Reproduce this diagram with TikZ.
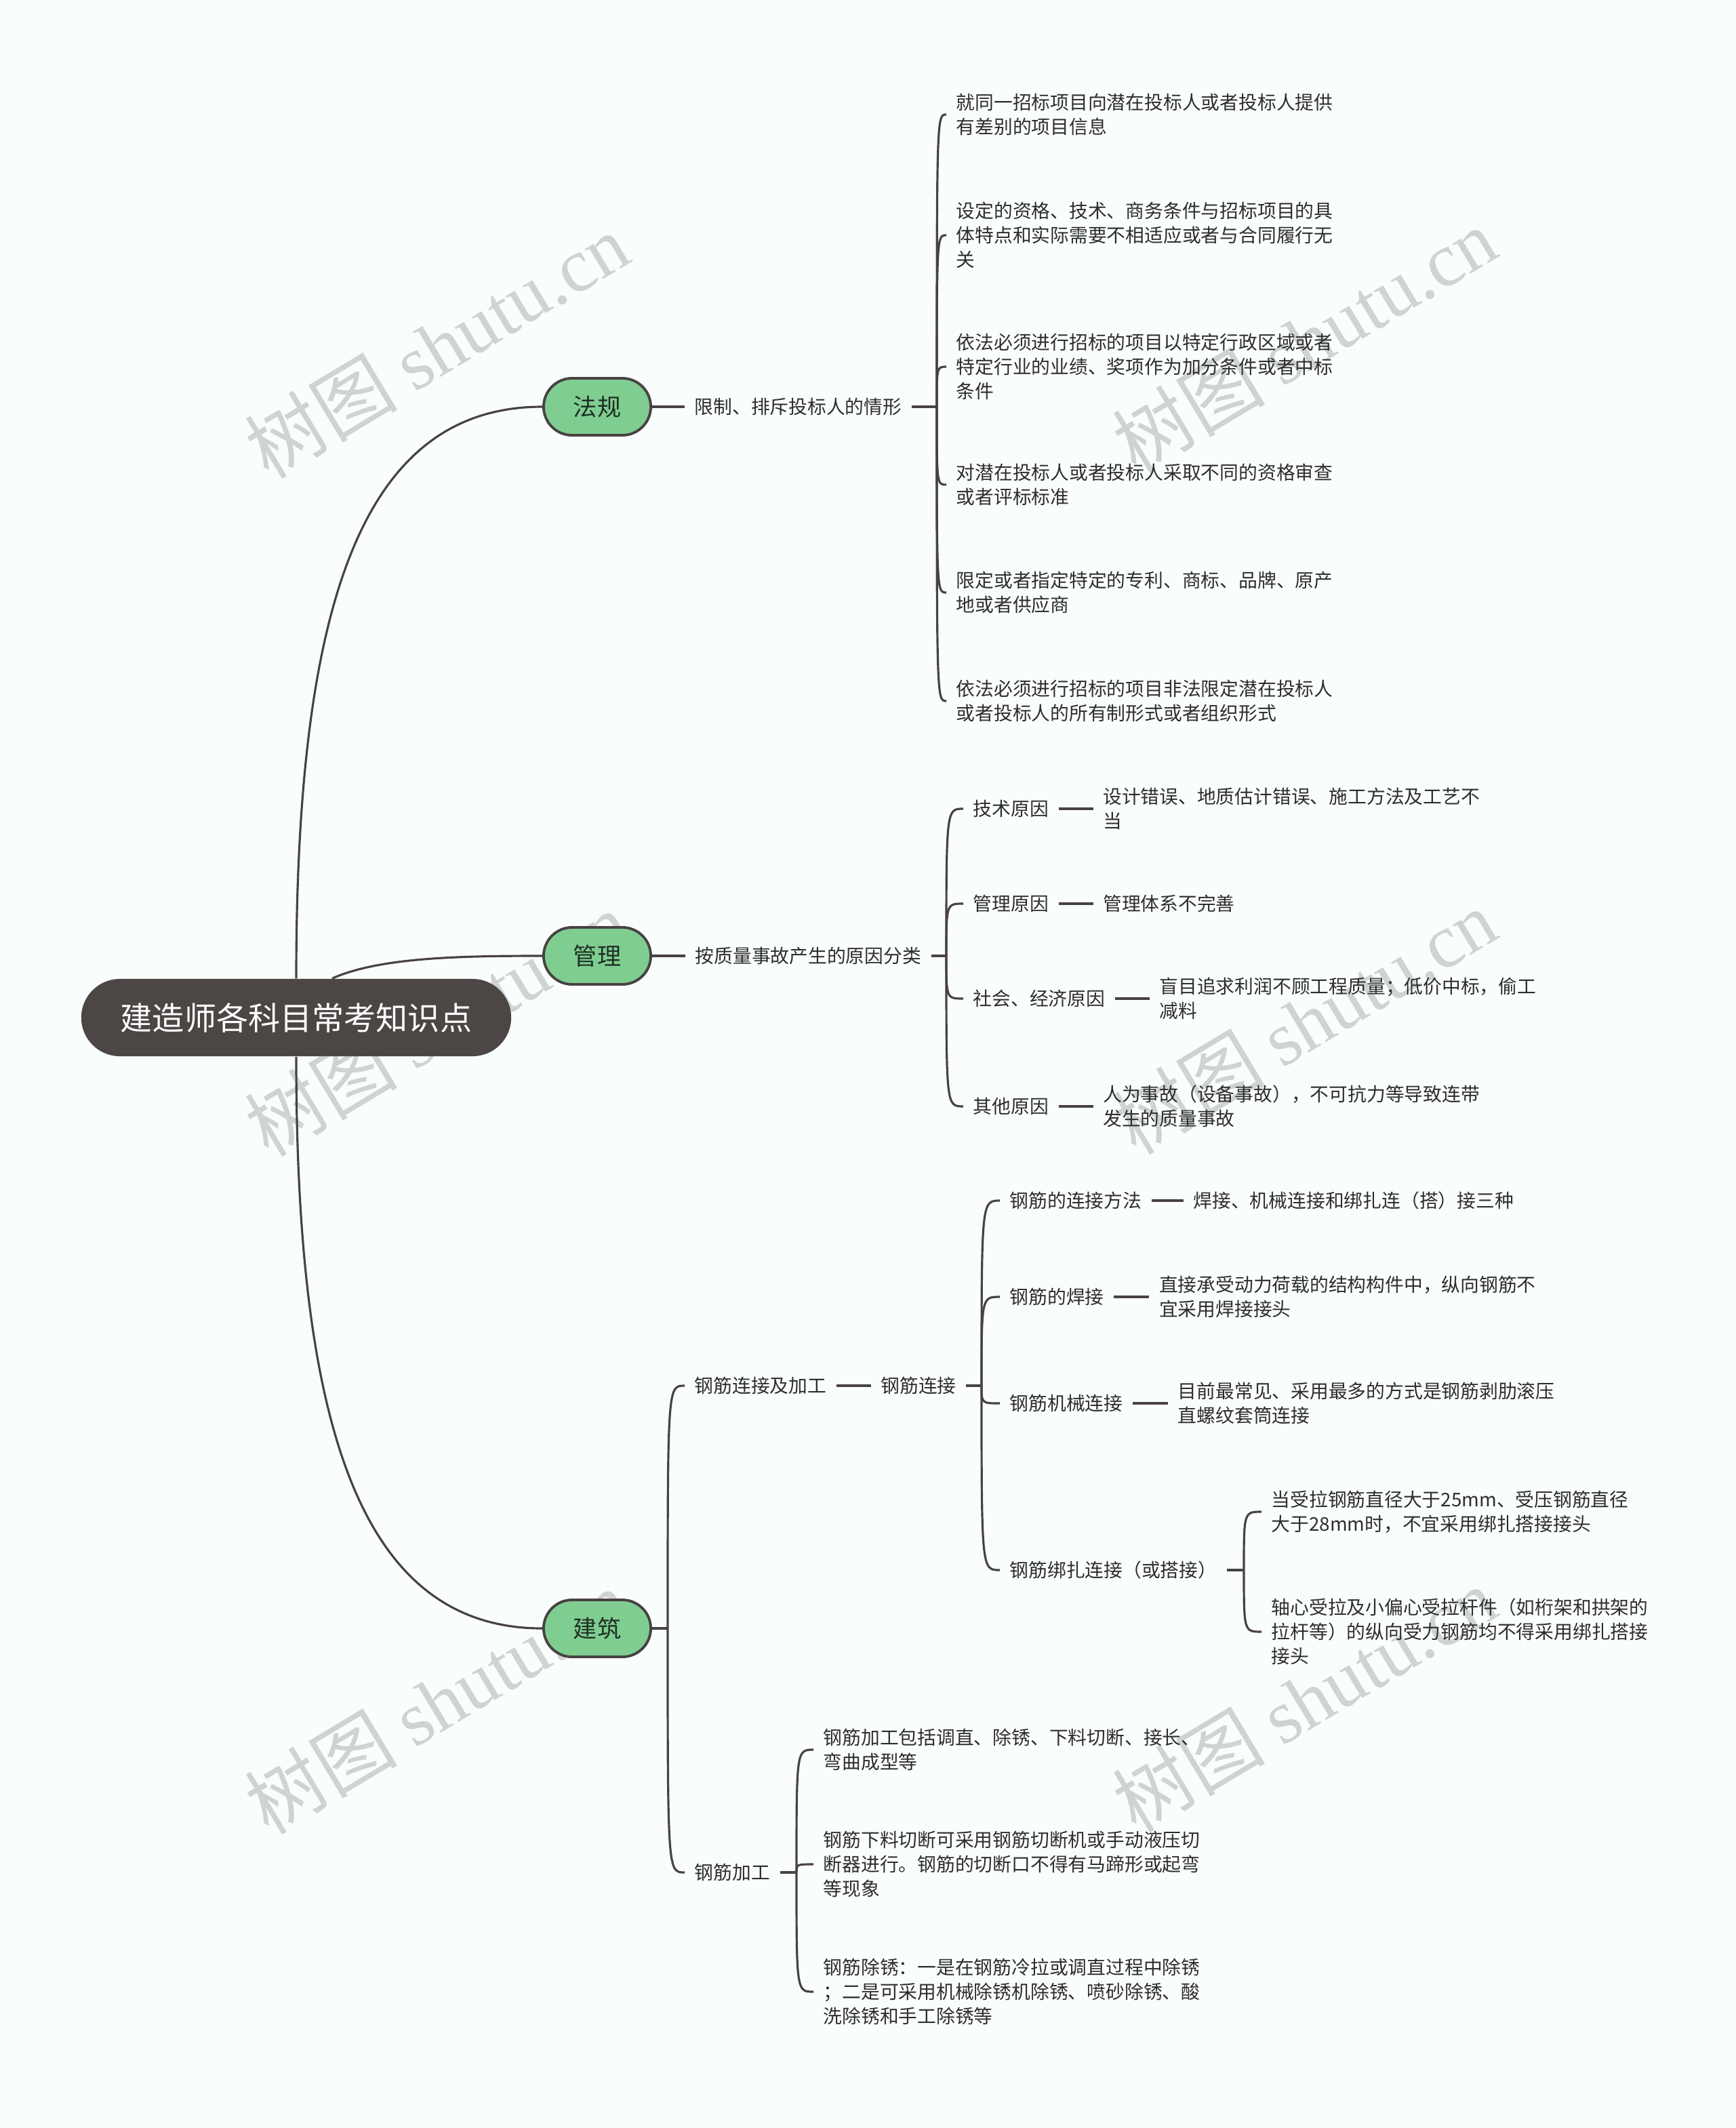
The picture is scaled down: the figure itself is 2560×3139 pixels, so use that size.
\documentclass[tikz,border=0pt]{standalone}
\usepackage{fontspec}
\setmainfont{Noto Sans CJK SC}
\newfontfamily\wmserif{Liberation Serif}
\usetikzlibrary{positioning}

\definecolor{bgcol}{RGB}{250,253,254}
\definecolor{rootcol}{RGB}{76,70,69}
\definecolor{pillcol}{RGB}{128,205,145}
\definecolor{pilltxt}{RGB}{30,48,36}
\definecolor{linecol}{RGB}{72,66,66}
\definecolor{txtcol}{RGB}{45,45,45}
\definecolor{wmcol}{RGB}{208,211,211}

\begin{document}
\begin{tikzpicture}[
  x=0.01cm, y=-0.01cm,
  root/.style={rounded corners=0.57cm, fill=rootcol, text=white, minimum width=6.34cm, minimum height=1.14cm, font=\fontsize{13.4}{16}\selectfont},
  topic/.style={rounded corners=0.42cm, fill=pillcol, draw=linecol, line width=1.1pt, minimum width=1.58cm, minimum height=0.84cm, text=pilltxt, font=\fontsize{10}{12}\selectfont},
  txt/.style={anchor=west, align=left, inner xsep=0.14cm, inner ysep=1pt, text=txtcol, font=\fontsize{7.9}{10.24}\selectfont},
  link/.style={draw=linecol, line width=0.9pt},
  bracket/.style={to path={.. controls (\tikztostart |- \tikztotarget) and (\tikztostart |- \tikztotarget) .. (\tikztotarget)}},
  wm/.style={rotate=31, text=wmcol, font=\fontsize{32}{36}\selectfont}
]
  \useasboundingbox (0,0) rectangle (2560,3139);
  \fill[bgcol] (0,0) rectangle (2560,3139);

  % Wasserzeichen
  \foreach \wx/\wy [count=\i] in {644/510, 1924/502, 644/1510, 1924/1507, 644/2510, 1924/2507}
    \node[wm] (wm\i) at (\wx,\wy) {树图 {\wmserif shutu.cn}};

  % Zentrum und Hauptthemen
  \node[root] (root) at (437,1501) {建造师各科目常考知识点};
  \node[topic] (fg) at (881,600) {法规};
  \node[topic] (gl) at (881,1410) {管理};
  \node[topic] (jz) at (881,2402) {建筑};

  \draw[link] (root.north) .. controls (437,900) and (530,600) .. (fg.west);
  \draw[link] ([xshift=0.53cm]root.north) .. controls (560,1412) and (680,1410) .. (gl.west);
  \draw[link] (root.south) .. controls (437,2100) and (530,2402) .. (jz.west);

  % Zweig: 法规
  \node[txt] (lim) at (1010,600) {限制、排斥投标人的情形};
  \coordinate (jlim) at (1382,600);
  \node[txt] (f1) at (1396,169) {就同一招标项目向潜在投标人或者投标人提供\\有差别的项目信息};
  \node[txt] (f2) at (1396,347) {设定的资格、技术、商务条件与招标项目的具\\体特点和实际需要不相适应或者与合同履行无\\关};
  \node[txt] (f3) at (1396,541) {依法必须进行招标的项目以特定行政区域或者\\特定行业的业绩、奖项作为加分条件或者中标\\条件};
  \node[txt] (f4) at (1396,715) {对潜在投标人或者投标人采取不同的资格审查\\或者评标标准};
  \node[txt] (f5) at (1396,874) {限定或者指定特定的专利、商标、品牌、原产\\地或者供应商};
  \node[txt] (f6) at (1396,1034) {依法必须进行招标的项目非法限定潜在投标人\\或者投标人的所有制形式或者组织形式};

  \draw[link] (fg.east) -- (lim.west);
  \draw[link] (lim.east) -- (jlim)
    edge[bracket] (f1.west) edge[bracket] (f2.west) edge[bracket] (f3.west)
    edge[bracket] (f4.west) edge[bracket] (f5.west) edge[bracket] (f6.west);

  % Zweig: 管理
  \node[txt] (cls) at (1011,1410) {按质量事故产生的原因分类};
  \coordinate (jcls) at (1396,1410);
  \node[txt] (m1) at (1421,1193) {技术原因};
  \node[txt] (m2) at (1421,1333) {管理原因};
  \node[txt] (m3) at (1421,1473) {社会、经济原因};
  \node[txt] (m4) at (1421,1632) {其他原因};
  \node[txt, right=0.51cm of m1] (m1l) {设计错误、地质估计错误、施工方法及工艺不\\当};
  \node[txt, right=0.51cm of m2] (m2l) {管理体系不完善};
  \node[txt, right=0.51cm of m3] (m3l) {盲目追求利润不顾工程质量；低价中标，偷工\\减料};
  \node[txt, right=0.51cm of m4] (m4l) {人为事故（设备事故），不可抗力等导致连带\\发生的质量事故};

  \draw[link] (gl.east) -- (cls.west);
  \draw[link] (cls.east) -- (jcls)
    edge[bracket] (m1.west) edge[bracket] (m2.west) edge[bracket] (m3.west) edge[bracket] (m4.west);
  \foreach \m in {m1,m2,m3,m4}
    \draw[link] (\m.east) -- (\m l.west);

  % Zweig: 建筑
  \coordinate (jjz) at (985,2402);
  \node[txt] (ljjg) at (1010,2044) {钢筋连接及加工};
  \node[txt] (jg) at (1010,2762) {钢筋加工};
  \draw[link] (jz.east) -- (jjz) edge[bracket] (ljjg.west) edge[bracket] (jg.west);

  \node[txt, right=0.51cm of ljjg] (lj) {钢筋连接};
  \draw[link] (ljjg.east) -- (lj.west);
  \coordinate (jlj) at (1448,2044);
  \node[txt] (c1) at (1475,1771) {钢筋的连接方法};
  \node[txt] (c2) at (1475,1913) {钢筋的焊接};
  \node[txt] (c3) at (1475,2070) {钢筋机械连接};
  \node[txt] (c4) at (1475,2316) {钢筋绑扎连接（或搭接）};
  \node[txt, right=0.47cm of c1] (c1l) {焊接、机械连接和绑扎连（搭）接三种};
  \node[txt, right=0.52cm of c2] (c2l) {直接承受动力荷载的结构构件中，纵向钢筋不\\宜采用焊接接头};
  \node[txt, right=0.52cm of c3] (c3l) {目前最常见、采用最多的方式是钢筋剥肋滚压\\直螺纹套筒连接};
  \draw[link] (lj.east) -- (jlj)
    edge[bracket] (c1.west) edge[bracket] (c2.west) edge[bracket] (c3.west) edge[bracket] (c4.west);
  \foreach \c in {c1,c2,c3}
    \draw[link] (\c.east) -- (\c l.west);

  \coordinate (jbz) at (1835,2316);
  \node[txt] (b1) at (1861,2230) {当受拉钢筋直径大于25mm、受压钢筋直径\\大于28mm时，不宜采用绑扎搭接接头};
  \node[txt] (b2) at (1861,2407) {轴心受拉及小偏心受拉杆件（如桁架和拱架的\\拉杆等）的纵向受力钢筋均不得采用绑扎搭接\\接头};
  \draw[link] (c4.east) -- (jbz) edge[bracket] (b1.west) edge[bracket] (b2.west);

  \coordinate (jjg) at (1175,2762);
  \node[txt] (p1) at (1200,2581) {钢筋加工包括调直、除锈、下料切断、接长、\\弯曲成型等};
  \node[txt] (p2) at (1200,2750) {钢筋下料切断可采用钢筋切断机或手动液压切\\断器进行。钢筋的切断口不得有马蹄形或起弯\\等现象};
  \node[txt] (p3) at (1200,2938) {钢筋除锈：一是在钢筋冷拉或调直过程中除锈\\；二是可采用机械除锈机除锈、喷砂除锈、酸\\洗除锈和手工除锈等};
  \draw[link] (jg.east) -- (jjg)
    edge[bracket] (p1.west) edge[bracket] (p2.west) edge[bracket] (p3.west);
\end{tikzpicture}
\end{document}
